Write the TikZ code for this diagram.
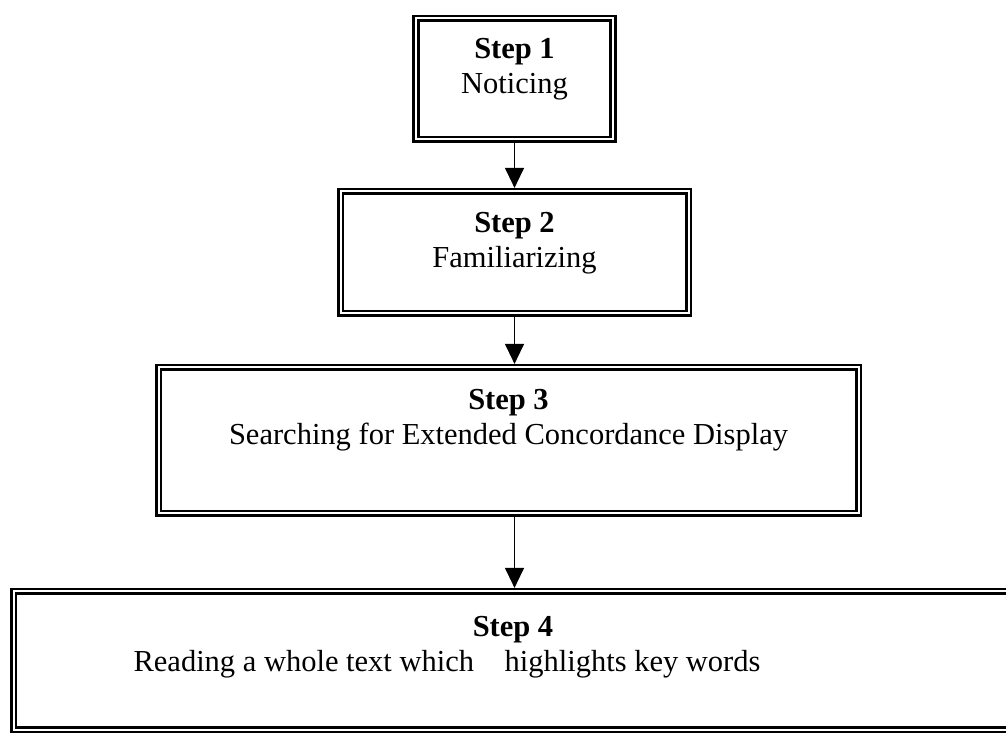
\documentclass[tikz,border=0pt]{standalone}
\usepackage{fontspec}
\setmainfont{Liberation Serif}
\usetikzlibrary{arrows.meta,positioning}

\begin{document}
\begin{tikzpicture}[x=1pt,y=1pt,
  stepbox/.style={draw,double,line width=2.6pt,double distance=2pt,inner sep=0pt,outer sep=3.6pt},
  steptext/.style={inner sep=0pt,align=center,font=\fontsize{30.5}{35}\selectfont},
  flow/.style={-{Triangle[length=20pt,width=19pt]},line width=1.3pt}]
  \useasboundingbox (0,0) rectangle (1006,736);

  % Step 1 box
  \node[stepbox,minimum width=197pt,minimum height=121pt] (s1) at (514.5,657) {};
  \node[steptext,below=23pt of s1.north] (t1) {\textbf{Step 1}\\Noticing};

  % Step 2 box
  \node[stepbox,minimum width=348pt,minimum height=122pt] (s2) at (514.5,483.5) {};
  \node[steptext,below=24pt of s2.north] (t2) {\textbf{Step 2}\\Familiarizing};

  % Step 3 box
  \node[stepbox,minimum width=700pt,minimum height=146pt] (s3) at (508.5,295.5) {};
  \node[steptext,below=25pt of s3.north] (t3) {\textbf{Step 3}\\Searching for Extended Concordance Display};

  % Step 4 box (runs off the right edge)
  \node[stepbox,minimum width=999pt,minimum height=138pt] (s4) at (513,75.5) {};
  \node[steptext,below=28pt of s4.north] (t4) {\textbf{Step 4}\\Reading a whole text which\ \ \ \ highlights key words\kern132pt};

  % Arrows
  \draw[flow] (s1) -- (s2);
  \draw[flow] (s2.south) -- (s2.south |- s3.north);
  \draw[flow] (s2.south |- s3.south) -- (s2.south |- s4.north);
\end{tikzpicture}
\end{document}
